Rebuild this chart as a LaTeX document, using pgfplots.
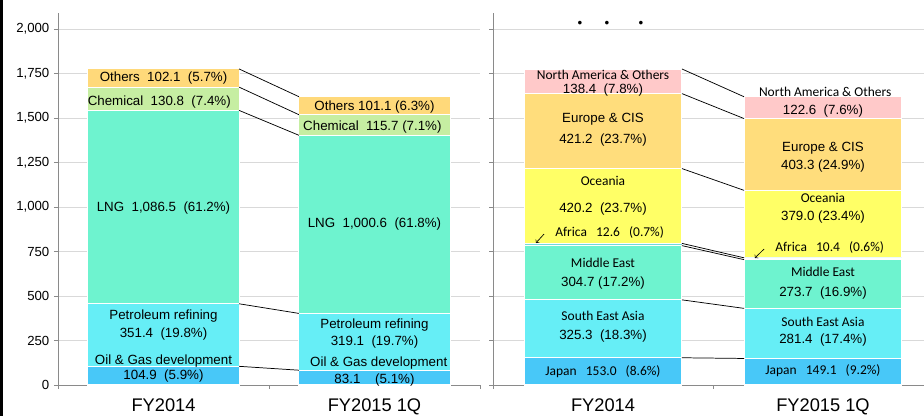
\documentclass[border=0pt]{standalone}
\usepackage{pgfplots}
\pgfplotsset{compat=1.18}
\usepackage{fontspec}
\setmainfont{Liberation Sans}
\newfontfamily\cali{Carlito}
\definecolor{cOil}{HTML}{48C8F8}
\definecolor{cPet}{HTML}{66EEF6}
\definecolor{cLNG}{HTML}{6EF3CF}
\definecolor{cChem}{HTML}{C6EEA2}
\definecolor{cOth}{HTML}{FFD97A}
\definecolor{cOce}{HTML}{FFFF66}
\definecolor{cEur}{HTML}{FFDD7C}
\definecolor{cNA}{HTML}{FFC9C9}
\definecolor{cAfr}{HTML}{74D8DC}
\definecolor{axgray}{HTML}{8A8A8A}
\definecolor{grid}{HTML}{D9D9D9}
\pgfplotsset{
  base/.style={scale only axis, height=279pt, ymin=0, ymax=2090, xmin=0, xmax=2, clip=false},
  frame/.style={
    base, ybar stacked, bar width=0.716,
    axis x line*=bottom, axis y line*=left,
    axis line style={draw=axgray, line width=0.6pt},
    ytick={0,250,...,2000}, ymajorgrids, grid style={draw=grid, line width=0.6pt},
    tick align=outside, major tick length=3pt,
    tick style={draw=axgray, line width=0.6pt},
    xtick={0,1,2}, x tick label as interval, xticklabels={FY2014,FY2015 1Q},
    x tick label style={font=\fontsize{13.7}{15}\selectfont, yshift=-4pt},
    y tick label style={font=\fontsize{9.9}{11}\selectfont},
    /pgf/number format/assume math mode=true,
    /pgf/number format/1000 sep={,},
    every axis plot/.append style={draw=white, line width=0.8pt},
  },
  over/.style={base, hide axis},
  conn/.style={black, line width=0.55pt, no marks, sharp plot},
}
\newcommand{\lt}[3]{\node[font=\fontsize{10}{11}\selectfont, inner sep=0pt] at (axis cs:#1,#2) {#3};}
\newcommand{\ct}[3]{\node[font=\cali\fontsize{10.1}{12}\selectfont, inner sep=0pt] at (axis cs:#1,#2) {#3};}
\begin{document}
\begin{tikzpicture}[x=1pt,y=1pt]
\useasboundingbox (-43.5,-23.25) rectangle (649.5,288.75);
\fill[black] (-43.5,-23.25) rectangle (-41.4,288.75);
% ---------- left panel: by product
\begin{axis}[frame, width=316.5pt]
\addplot[fill=cOil] coordinates {(0.5,104.9) (1.5,83.1)};
\addplot[fill=cPet] coordinates {(0.5,351.4) (1.5,319.1)};
\addplot[fill=cLNG] coordinates {(0.5,1086.5) (1.5,1000.6)};
\addplot[fill=cChem] coordinates {(0.5,130.8) (1.5,115.7)};
\addplot[fill=cOth] coordinates {(0.5,102.1) (1.5,101.1)};
\end{axis}
\begin{axis}[over, width=316.5pt]
\addplot[conn] coordinates {(0.858,104.9) (1.142,83.1)};
\addplot[conn] coordinates {(0.858,456.3) (1.142,402.2)};
\addplot[conn] coordinates {(0.858,1542.8) (1.142,1402.8)};
\addplot[conn] coordinates {(0.858,1673.6) (1.142,1518.5)};
\addplot[conn] coordinates {(0.858,1775.7) (1.142,1619.6)};
\lt{0.5}{1725}{Others~~102.1~~(5.7\%)}
\lt{0.48}{1590}{Chemical~~130.8~~(7.4\%)}
\lt{0.5}{994}{LNG~~1,086.5~~(61.2\%)}
\lt{0.5}{388}{Petroleum refining}
\lt{0.5}{287}{351.4~~(19.8\%)}
\lt{0.5}{135}{Oil \& Gas development}
\lt{0.5}{51}{104.9~~(5.9\%)}
\lt{1.5}{1562}{Others~101.1~(6.3\%)}
\lt{1.49}{1449}{Chemical~~115.7~(7.1\%)}
\lt{1.5}{904}{LNG~~1,000.6~~(61.8\%)}
\lt{1.5}{337}{Petroleum refining}
\lt{1.5}{241}{319.1~~(19.7\%)}
\lt{1.52}{124}{Oil \& Gas development}
\lt{1.5}{28}{83.1~~~~(5.1\%)}
\end{axis}
% ---------- right panel: by region
\begin{scope}[xshift=326.25pt]
\begin{axis}[frame, width=330pt, yticklabels={}]
\addplot[fill=cOil] coordinates {(0.5,153.0) (1.5,149.1)};
\addplot[fill=cPet] coordinates {(0.5,325.3) (1.5,281.4)};
\addplot[fill=cLNG] coordinates {(0.5,304.7) (1.5,273.7)};
\addplot[fill=cAfr, line width=0.3pt] coordinates {(0.5,12.6) (1.5,10.4)};
\addplot[fill=cOce] coordinates {(0.5,420.2) (1.5,379.0)};
\addplot[fill=cEur] coordinates {(0.5,421.2) (1.5,403.3)};
\addplot[fill=cNA] coordinates {(0.5,138.4) (1.5,122.6)};
\end{axis}
\begin{axis}[over, width=330pt]
\addplot[conn] coordinates {(0.859,153.0) (1.141,149.1)};
\addplot[conn] coordinates {(0.859,478.3) (1.141,430.5)};
\addplot[conn] coordinates {(0.859,783.0) (1.141,704.2)};
\addplot[conn] coordinates {(0.859,795.6) (1.141,714.6)};
\addplot[conn] coordinates {(0.859,1215.8) (1.141,1093.6)};
\addplot[conn] coordinates {(0.859,1637.0) (1.141,1496.9)};
\addplot[conn] coordinates {(0.859,1775.4) (1.141,1619.5)};
\ct{0.5}{1742}{North America \& Others}
\lt{0.5}{1657}{138.4~~(7.8\%)}
\lt{0.5}{1494}{Europe \& CIS}
\lt{0.5}{1376}{421.2~~(23.7\%)}
\ct{0.5}{1146}{Oceania}
\lt{0.5}{989}{420.2~~(23.7\%)}
\ct{0.53}{854}{Africa~~~12.6~~~(0.7\%)}
\ct{0.5}{685}{Middle East}
\lt{0.5}{573}{304.7~(17.2\%)}
\ct{0.5}{388}{South East Asia}
\lt{0.5}{275}{325.3~~(18.3\%)}
\ct{0.5}{73}{Japan~~~153.0~~~(8.6\%)}
\ct{1.51}{1646}{North America \& Others}
\lt{1.5}{1539}{122.6~~(7.6\%)}
\lt{1.5}{1331}{Europe \& CIS}
\lt{1.5}{1230}{403.3~(24.9\%)}
\ct{1.5}{1051}{Oceania}
\lt{1.5}{944}{379.0~(23.4\%)}
\ct{1.53}{770}{Africa~~~10.4~~~(0.6\%)}
\ct{1.5}{635}{Middle East}
\lt{1.5}{517}{273.7~~(16.9\%)}
\ct{1.5}{354}{South East Asia}
\lt{1.5}{253}{281.4~~(17.4\%)}
\ct{1.5}{79}{Japan~~~149.1~~~(9.2\%)}
\draw[->, line width=0.5pt] (axis cs:0.232,848) -- (axis cs:0.195,798);
\draw[->, line width=0.5pt] (axis cs:1.232,764) -- (axis cs:1.19,713);
\node[font=\fontsize{10}{11}\selectfont] at (axis cs:0.395,2028) {•};
\node[font=\fontsize{10}{11}\selectfont] at (axis cs:0.518,2028) {•};
\node[font=\fontsize{10}{11}\selectfont] at (axis cs:0.673,2028) {•};
\end{axis}
\end{scope}
\end{tikzpicture}
\end{document}
